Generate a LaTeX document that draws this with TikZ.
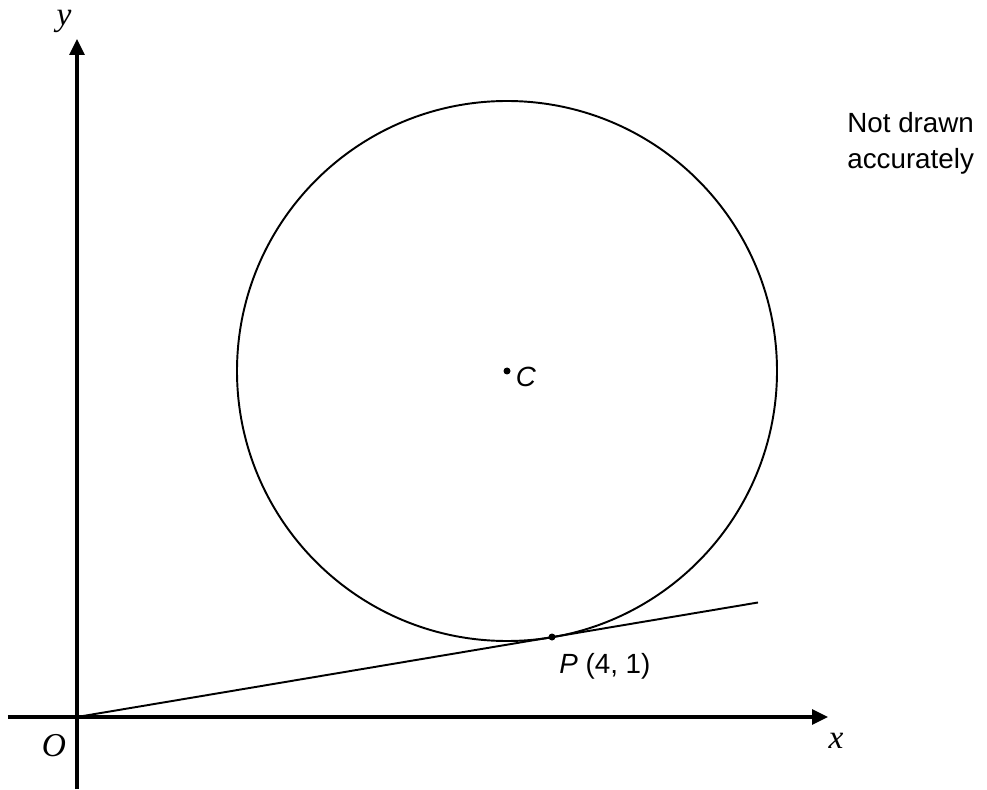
\documentclass[tikz,border=0pt]{standalone}
\usepackage{fontspec}
\setmainfont{Liberation Sans}
\newfontfamily\timesfont{Liberation Serif}
\usetikzlibrary{arrows.meta}

\begin{document}
\begin{tikzpicture}[x=2cm,y=2cm,>={Triangle[length=0.32cm,width=0.3cm]},
    axis/.style={->,line width=1.8pt},
    curve/.style={line width=1.1pt},
    varlbl/.style={inner sep=0pt,font=\timesfont\itshape\fontsize{19}{19}\selectfont},
    txt/.style={inner sep=0pt,font=\fontsize{15.8}{20.4}\selectfont}]
  \useasboundingbox (-0.77,-0.72) rectangle (9.10,7.17);
  \coordinate (O) at (0,0);
  \coordinate (C) at (4.30,3.46);
  \coordinate (P) at (4.75,0.80);
  \coordinate (T) at (6.81,1.145);
  \coordinate (xs) at (-0.69,0);
  \coordinate (xe) at (7.51,0);
  \coordinate (ys) at (0,-0.72);
  \coordinate (ye) at (0,6.78);
  % axes
  \draw[axis] (xs) -- (xe);
  \draw[axis] (ys) -- (ye);
  % circle and tangent
  \draw[curve] (C) circle[radius=2.70];
  \draw[curve] (O) -- (T);
  \fill (C) circle[radius=0.035];
  \fill (P) circle[radius=0.035];
  % labels
  \node[varlbl] (ylbl) at (-0.13,6.96) {y};
  \node[varlbl] (xlbl) at (7.59,-0.24) {x};
  \node[varlbl] (olbl) at (-0.23,-0.29) {O};
  \node[txt] (clbl) at (4.49,3.40) {\textit{C}};
  \node[txt,anchor=base west] (plbl) at (4.82,0.44) {\textit{P} (4, 1)};
  \node[txt,anchor=north west,align=left] (note) at (7.70,6.05) {Not drawn\\accurately};
\end{tikzpicture}
\end{document}
